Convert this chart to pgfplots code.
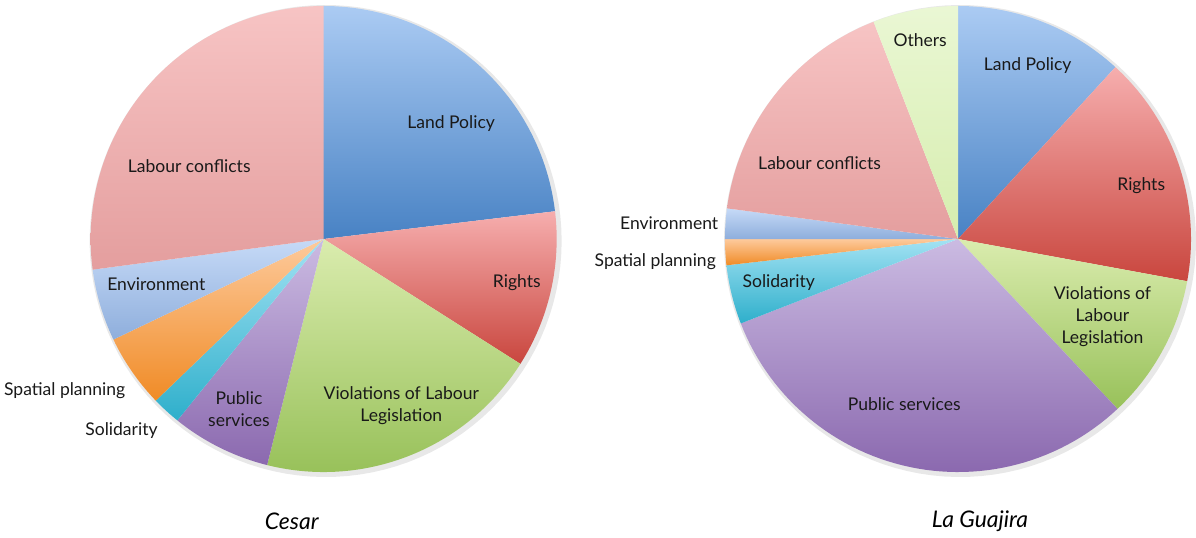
\documentclass[border=0pt]{standalone}
\usepackage{pgfplots}
\pgfplotsset{compat=1.18}
\usepackage{pgfplotstable}
\usepackage{fontspec}
\setmainfont{Lato}

% slice colours: top / bottom of the vertical shading
\definecolor{landT}{HTML}{ABCBF3}\definecolor{landB}{HTML}{4882C4}
\definecolor{rightsT}{HTML}{F6AEAE}\definecolor{rightsB}{HTML}{C9463E}
\definecolor{violT}{HTML}{DAECAE}\definecolor{violB}{HTML}{98C15A}
\definecolor{pubT}{HTML}{CBBBE2}\definecolor{pubB}{HTML}{8B69AF}
\definecolor{solT}{HTML}{A3E2F3}\definecolor{solB}{HTML}{2EAFCB}
\definecolor{spatT}{HTML}{FDCA9C}\definecolor{spatB}{HTML}{F08B26}
\definecolor{envT}{HTML}{C6DAF7}\definecolor{envB}{HTML}{8EAEDC}
\definecolor{labT}{HTML}{F7C4C4}\definecolor{labB}{HTML}{E49E9E}
\definecolor{othT}{HTML}{EAF7D4}\definecolor{othB}{HTML}{D6EDAE}

% shares in percent, clockwise from 12 o'clock
\pgfplotstableread{
key value
land 23.1
rights 10.9
viol 19.9
pub 6.9
sol 2.0
spat 5.1
env 5.0
lab 27.1
}\cesar

\pgfplotstableread{
key value
land 11.8
rights 16.1
viol 10.1
pub 31.1
sol 4.1
spat 1.8
env 2.1
lab 17.0
oth 5.9
}\guajira

\newcommand\pie[3]{% table, centre x, centre y (pixel units)
  \addplot[draw=black!9, line width=3pt, domain=0:360, samples=120, variable=\t]
    ({#2+2+234*cos(\t)},{#3+2+234*sin(\t)});
  \pgfplotstablegetrowsof{#1}\pgfmathtruncatemacro\N{\pgfplotsretval-1}
  \def\cur{-90}
  \pgfplotsforeachungrouped \i in {0,...,\N}{
    \pgfplotstablegetelem{\i}{value}\of{#1}\let\v\pgfplotsretval
    \pgfplotstablegetelem{\i}{key}\of{#1}\let\k\pgfplotsretval
    \pgfmathsetmacro\nxt{\cur+3.6*\v}
    \edef\doslice{\noexpand\addplot[draw=none, top color=\k T, bottom color=\k B,
      domain=\cur:\nxt, samples=60, variable=\noexpand\t]
      ({#2+234*cos(\noexpand\t)},{#3+234*sin(\noexpand\t)}) -- (#2,#3) -- cycle;}
    \doslice
    \let\cur\nxt
  }
}

\tikzset{lbl/.style={font=\fontsize{8.8}{11.2}\selectfont, text=black!90, align=center, inner sep=1pt},
  ttl/.style={font=\fontsize{11.5}{14}\selectfont\itshape, text=black}}

\begin{document}
\begin{tikzpicture}
\begin{axis}[
  width=598pt, height=269.5pt, scale only axis,
  xmin=0, xmax=1196, ymin=0, ymax=539, y dir=reverse,
  hide axis, clip=false,
]
\addplot[draw=none] coordinates {(0,0) (1196,539)};

\pie{\cesar}{325}{240}
\pie{\guajira}{962}{240}

% Cesar labels
\node[lbl] at (axis cs:453,124) {Land Policy};
\node[lbl] at (axis cs:190,167) {Labour conflicts};
\node[lbl] at (axis cs:519,284) {Rights};
\node[lbl] at (axis cs:157,285) {Environment};
\node[lbl] at (axis cs:65,392) {Spatial planning};
\node[lbl] at (axis cs:122,432) {Solidarity};
\node[lbl] at (axis cs:240,411) {Public\\services};
\node[lbl] at (axis cs:403,407) {Violations of Labour\\Legislation};
\node[ttl] at (axis cs:293,523) {Cesar};

% La Guajira labels
\node[lbl] at (axis cs:924,40) {Others};
\node[lbl] at (axis cs:1032,66) {Land Policy};
\node[lbl] at (axis cs:823,164) {Labour conflicts};
\node[lbl] at (axis cs:1146,186) {Rights};
\node[lbl] at (axis cs:672,224) {Environment};
\node[lbl] at (axis cs:658,263) {Spatial planning};
\node[lbl] at (axis cs:782,284) {Solidarity};
\node[lbl] at (axis cs:1107,318) {Violations of\\Labour\\Legislation};
\node[lbl] at (axis cs:908,406) {Public services};
\node[ttl] at (axis cs:984,523) {La Guajira};
\end{axis}
\end{tikzpicture}
\end{document}
